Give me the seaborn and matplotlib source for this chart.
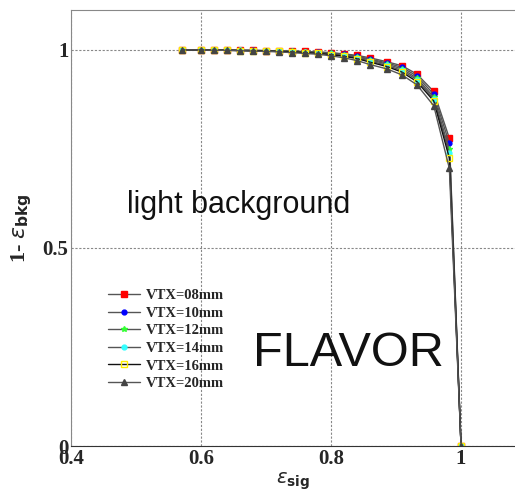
import matplotlib
matplotlib.use("Agg")
import matplotlib.pyplot as plt
from matplotlib.ticker import MultipleLocator
import seaborn as sns
import pandas as pd

# --- data ---
labels = ["VTX=08mm", "VTX=10mm", "VTX=12mm", "VTX=14mm", "VTX=16mm", "VTX=20mm"]
colors = ["#ff0000", "#0000ff", "#33ff33", "#33ffff", "#ffee00", "#444444"]
markers = ["s", "o", "*", "o", "s", "^"]

eff_sig = [0.57, 0.60, 0.62, 0.64, 0.66, 0.68, 0.70, 0.72, 0.74, 0.76, 0.78, 0.80,
           0.82, 0.84, 0.86, 0.886, 0.909, 0.932, 0.958, 0.982, 1.0]

rej_08 = [1.0, 1.0, 1.0, 1.0, 0.999, 0.999, 0.998, 0.998, 0.997, 0.996, 0.995, 0.993,
          0.990, 0.986, 0.980, 0.970, 0.960, 0.939, 0.895, 0.777, 0.0]
rej_10 = [1.0, 1.0, 1.0, 1.0, 0.999, 0.999, 0.998, 0.997, 0.996, 0.995, 0.994, 0.992,
          0.989, 0.984, 0.977, 0.967, 0.956, 0.934, 0.888, 0.764, 0.0]
rej_12 = [1.0, 1.0, 1.0, 0.999, 0.999, 0.998, 0.998, 0.997, 0.996, 0.995, 0.993, 0.991,
          0.987, 0.982, 0.975, 0.964, 0.952, 0.929, 0.881, 0.749, 0.0]
rej_14 = [1.0, 1.0, 1.0, 0.999, 0.999, 0.998, 0.997, 0.996, 0.995, 0.994, 0.992, 0.989,
          0.985, 0.980, 0.972, 0.961, 0.948, 0.925, 0.876, 0.739, 0.0]
rej_16 = [1.0, 1.0, 0.999, 0.999, 0.998, 0.998, 0.997, 0.996, 0.995, 0.993, 0.991, 0.988,
          0.984, 0.978, 0.969, 0.958, 0.944, 0.920, 0.871, 0.727, 0.0]
rej_20 = [1.0, 1.0, 0.999, 0.999, 0.998, 0.997, 0.996, 0.995, 0.993, 0.991, 0.989, 0.985,
          0.980, 0.973, 0.963, 0.952, 0.937, 0.912, 0.859, 0.701, 0.0]
rejections = [rej_08, rej_10, rej_12, rej_14, rej_16, rej_20]

rows = []
for lab, rej in zip(labels, rejections):
    for s, r in zip(eff_sig, rej):
        rows.append({"sig": s, "rej": r, "VTX": lab})
df = pd.DataFrame(rows)

sns.set_style("white")
plt.rcParams["font.family"] = ["Liberation Serif", "DejaVu Serif"]

fig = plt.figure(figsize=(5.15, 4.94), dpi=100)
ax = fig.add_axes([0.138, 0.097, 0.862, 0.883])

for lab, col, mk in zip(labels, colors, markers):
    sub = df[df["VTX"] == lab]
    line_col = "#111111" if lab == "VTX=16mm" else "#555555"
    face = "none" if lab == "VTX=16mm" else col
    sns.lineplot(data=sub, x="sig", y="rej", ax=ax, color=line_col, lw=1.0,
                 marker=mk, markersize=4 if mk != "o" else 3.5, markerfacecolor=face,
                 markeredgecolor=col, markeredgewidth=1.0, label=lab, sort=False)

ax.set_xlim(0.4, 1.083)
ax.set_ylim(0, 1.101)
ax.xaxis.set_major_locator(MultipleLocator(0.2))
ax.xaxis.set_minor_locator(MultipleLocator(0.05))
ax.yaxis.set_major_locator(MultipleLocator(0.5))
ax.yaxis.set_minor_locator(MultipleLocator(0.25))
ax.set_xticks([0.4, 0.6, 0.8, 1.0])
ax.set_xticklabels(["0.4", "0.6", "0.8", "1"])
ax.set_yticks([0, 0.5, 1.0])
ax.set_yticklabels(["0", "0.5", "1"])
ax.tick_params(which="major", direction="in", length=10, width=1, color="#333333",
               labelsize=15, pad=2)
ax.tick_params(which="minor", direction="in", length=6, width=0.8, color="#333333")
for t in ax.get_xticklabels() + ax.get_yticklabels():
    t.set_fontweight("bold")

ax.grid(True, which="major", ls=(0, (2, 1.5)), color="#888888", lw=0.8)
for side in ["left", "bottom", "top"]:
    ax.spines[side].set_color("#888888")
ax.spines["bottom"].set_color("#333333")
ax.spines["right"].set_visible(False)

ax.set_xlabel(r"$\epsilon_{\mathbf{sig}}$", fontsize=14, labelpad=1)
ax.set_ylabel(r"1- $\epsilon_{\mathbf{bkg}}$", fontsize=16, fontweight="bold", labelpad=6)

leg = ax.legend(loc="lower left", bbox_to_anchor=(0.07, 0.115), frameon=False,
                prop={"family": "Liberation Serif", "weight": "bold", "size": 10.5},
                handlelength=2.2, handletextpad=0.4, labelspacing=0.3, borderaxespad=0)

ax.text(0.126, 0.535, "light background", transform=ax.transAxes,
        fontsize=22, family="Liberation Sans", color="#111111")
ax.text(0.410, 0.183, "FLAVOR", transform=ax.transAxes,
        fontsize=35, family="Liberation Sans", color="#111111")

fig.savefig("out.png", dpi=100)
